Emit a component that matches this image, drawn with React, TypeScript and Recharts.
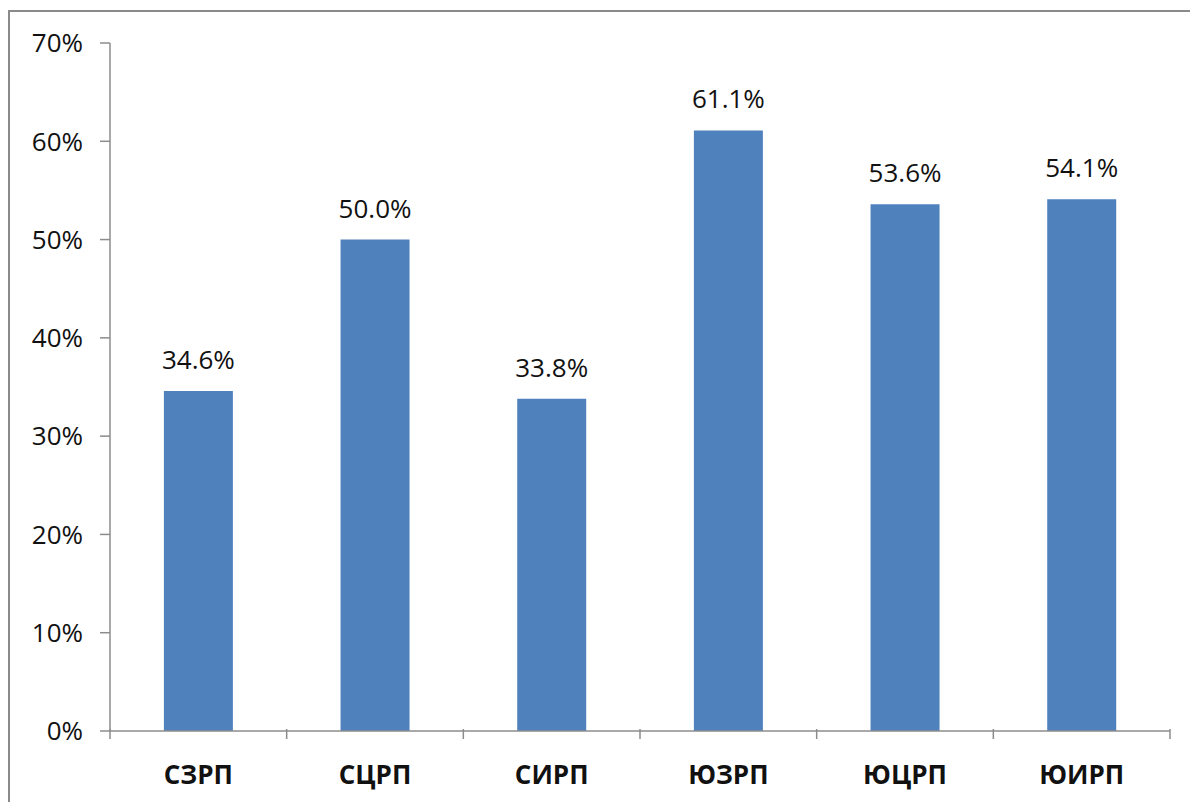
import { BarChart, Bar, XAxis, YAxis, LabelList } from 'recharts';

const regions = ['СЗРП', 'СЦРП', 'СИРП', 'ЮЗРП', 'ЮЦРП', 'ЮИРП'];
const shares = [34.6, 50.0, 33.8, 61.1, 53.6, 54.1];
const yTicks = [0, 10, 20, 30, 40, 50, 60, 70];

const data = regions.map((name, i) => ({ name, share: shares[i] }));

const FONT = '"Open Sans", "Noto Sans", sans-serif';
const AXIS = '#8c8c8c';
const CHART_W = 1190;
const CHART_H = 802;
const PLOT_LEFT = 110;
const PLOT_RIGHT = 20;
const BAND = (CHART_W - PLOT_LEFT - PLOT_RIGHT) / regions.length;

// category label at the centre, tick marks on the band edges (Excel style)
function CategoryTick(props: any) {
  const { x, y, payload, index } = props;
  const half = payload && payload.offset ? payload.offset : BAND / 2;
  const last = index === regions.length - 1;
  return (
    <g>
      <line x1={x - half} y1={y - 10} x2={x - half} y2={y} stroke={AXIS} strokeWidth={1.5} />
      {last && <line x1={x + half} y1={y - 10} x2={x + half} y2={y} stroke={AXIS} strokeWidth={1.5} />}
      <text
        x={x}
        y={y + 27}
        dy="0.71em"
        textAnchor="middle"
        fontFamily={FONT}
        fontSize={26}
        fontWeight={700}
        fill="#111"
      >
        {payload.value}
      </text>
    </g>
  );
}

export default function App() {
  return (
    <div style={{ position: 'absolute', left: 0, top: 0, width: CHART_W, height: CHART_H, overflow: 'hidden', background: '#fff' }}>
      <div
        style={{
          position: 'absolute',
          left: 8,
          top: 10,
          width: 1300,
          height: 900,
          border: '2px solid #8a8a8a',
          boxSizing: 'border-box',
        }}
      />
      <div style={{ position: 'absolute', left: 0, top: 0 }}>
        <BarChart
          width={CHART_W}
          height={CHART_H}
          data={data}
          margin={{ top: 43, right: PLOT_RIGHT, bottom: 0, left: 0 }}
          barCategoryGap="30.5%"
        >
          <XAxis
            dataKey="name"
            height={71}
            axisLine={{ stroke: AXIS, strokeWidth: 1.5 }}
            tickLine={false}
            tick={<CategoryTick />}
            interval={0}
          />
          <YAxis
            width={PLOT_LEFT}
            domain={[0, 70]}
            ticks={yTicks}
            interval={0}
            tickFormatter={(v: number) => `${v}%`}
            axisLine={{ stroke: AXIS, strokeWidth: 1.5 }}
            tickLine={{ stroke: AXIS, strokeWidth: 1.5 }}
            tickSize={10}
            tickMargin={17}
            tick={{ fontFamily: FONT, fontSize: 26, fill: '#111' }}
          />
          <Bar dataKey="share" fill="#4F81BD" isAnimationActive={false}>
            <LabelList
              dataKey="share"
              position="top"
              offset={22}
              formatter={(v: any) => `${Number(v).toFixed(1)}%`}
              style={{ fontFamily: FONT, fontSize: 26, fill: '#111' }}
            />
          </Bar>
        </BarChart>
      </div>
    </div>
  );
}
